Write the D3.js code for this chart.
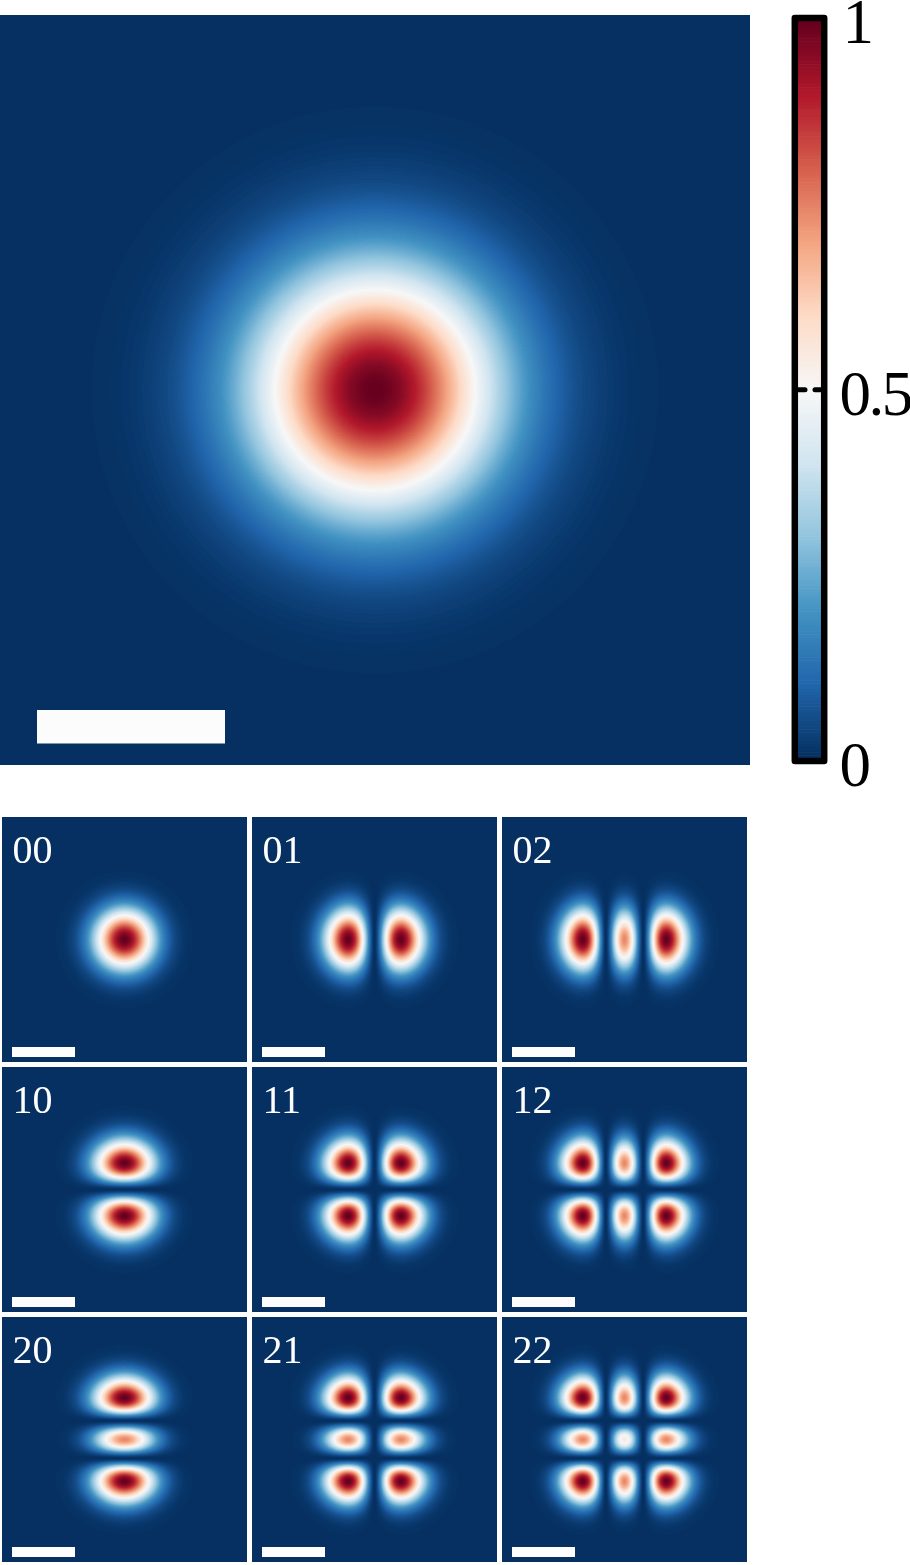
<!DOCTYPE html>
<html>
<head>
<meta charset="utf-8">
<script src="https://cdn.jsdelivr.net/npm/d3@7"></script>
<style>
html,body{margin:0;padding:0;background:#fff;width:910px;height:1565px;overflow:hidden}
#wrap{position:relative;width:910px;height:1565px}
canvas{position:absolute;display:block}
svg{position:absolute;left:0;top:0}
text{font-family:"Liberation Serif","Times New Roman",serif}
</style>
</head>
<body>
<div id="wrap"></div>
<script>
// Readings from the picture. Distances are in scale-bar lengths, sampled every profileStep.
const profileStep = 0.05;
const mainRadial = [1,.9939,.9758,.9464,.9067,.8581,.8022,.7408,.6757,.6088,.5421,.4768,.414,.3552,.3012,.2521,.2087,.1706,.1378,.1097,.0863,.067,.0515,.0391,.0294,.0217,.0161,.0116,.0083,.0058,.0041,.0028,.0019,.0013,.0008,0];
const order0 = [1,.9882,.9537,.8986,.8269,.7436,.6529,.559,.4681,.383,.3055,.238,.1812,.1347,.098,.0691,.048,.0325,.0215,.0138,.0087,.0053,.0032,.0019,.0011,.0006,.0003,0];
const order1 = [0,.0656,.2017,.3731,.554,.7232,.8615,.9525,.996,.9925,.9428,.861,.7588,.6437,.5304,.4199,.3241,.2432,.1766,.1243,.0855,.0567,.0367,.0233,.0142,.0088,.0051,.003,.0016,.0009,.0005,0];
const order2 = [.74,.698,.578,.406,.223,.069,.001,.0945,.268,.4757,.6772,.8414,.9515,.9988,.985,.9206,.8185,.699,.5725,.4511,.3429,.252,.1794,.1229,.0818,.053,.033,.0202,.012,.0069,.004,.0022,.0012,.0006,.0003,0];
const orderProfiles = [order0, order1, order2];
const modeOrders = [0, 1, 2];
const colorDomain = [0,.1,.2,.3,.4,.5,.6,.7,.8,.9,1];
const colorStops = ["#053061","#2166ac","#4393c3","#92c5de","#d1e5f0","#f7f7f7","#fddbc7","#f4a582","#d6604d","#b2182b","#67001f"];
const colorLevels = d3.range(256).map(i => i / 255);
const barTicks = [0, 0.5, 1];
const barMarks = [0.5];

const color = d3.scaleLinear().domain(colorDomain).range(colorStops).interpolate(d3.interpolateRgb);
const lut = colorLevels.map(v => d3.rgb(color(v)));
const level = d3.scaleQuantize().domain([0, 1]).range(d3.range(256));

function sample(table, d) {
  const t = Math.abs(d) / profileStep, i = Math.floor(t), f = t - i;
  if (i >= table.length - 1) return 0;
  const at = k => k < 0 ? table[-k] : (k >= table.length ? 0 : table[k]);
  const a = at(i - 1), b = at(i), c = at(i + 1), e = at(i + 2);
  const v = 0.5 * (2 * b + (c - a) * f + (2 * a - 5 * b + 4 * c - e) * f * f + (3 * b - a - 3 * c + e) * f * f * f);
  return Math.max(0, Math.min(1, v));
}

const wrap = d3.select("#wrap");

function heat(left, top, size, unit, fn) {
  const half = size / 2 / unit;
  const pos = d3.scaleLinear().domain([0, size]).range([-half, half]);
  const cv = wrap.append("canvas").attr("width", size).attr("height", size)
    .style("left", left + "px").style("top", top + "px");
  const ctx = cv.node().getContext("2d");
  const img = ctx.createImageData(size, size);
  for (let r = 0; r < size; r++) for (let c = 0; c < size; c++) {
    const col = lut[level(fn(pos(c + 0.5), pos(r + 0.5)))];
    const k = (r * size + c) * 4;
    img.data[k] = col.r; img.data[k + 1] = col.g; img.data[k + 2] = col.b; img.data[k + 3] = 255;
  }
  ctx.putImageData(img, 0, 0);
}

// large beam
heat(0, 15, 750, 188, (x, y) => sample(mainRadial, Math.hypot(x, y)));

// 3x3 mode grid
const col = d3.scaleBand().domain(modeOrders).range([2, 747]).paddingInner(0.02);
const row = d3.scaleBand().domain(modeOrders).range([817, 1562]).paddingInner(0.02);
const modes = d3.cross(modeOrders, modeOrders, (m, n) => ({m, n}));
modes.forEach(({m, n}) => {
  heat(Math.round(col(n)), Math.round(row(m)), 245, 63,
    (x, y) => sample(orderProfiles[m], y) * sample(orderProfiles[n], x));
});

const svg = wrap.append("svg").attr("width", 910).attr("height", 1565);

svg.append("rect").attr("x", 37).attr("y", 710).attr("width", 188).attr("height", 33.5).attr("fill", "#fcfcfc");

const modeG = svg.selectAll("g.mode").data(modes).join("g").attr("class", "mode")
  .attr("transform", d => `translate(${Math.round(col(d.n))},${Math.round(row(d.m))})`);
modeG.append("rect").attr("x", 10).attr("y", 230).attr("width", 63).attr("height", 10).attr("fill", "#fdfdfd");
modeG.append("text").attr("x", 10.5).attr("y", 46).attr("font-size", 40).attr("fill", "#fff")
  .text(d => `${d.m}${d.n}`);

// colour bar
const barY = d3.scaleLinear().domain([0, 1]).range([758.3, 21.3]);
const cellH = (barY(0) - barY(1)) / colorLevels.length;
svg.append("g").selectAll("rect").data(colorLevels).join("rect")
  .attr("x", 797).attr("width", 25)
  .attr("y", (d, i) => barY(0) - (i + 1) * cellH - 0.3)
  .attr("height", cellH + 0.6)
  .attr("fill", d => color(d));
svg.append("rect").attr("x", 794.8).attr("y", 18.1).attr("width", 29.4).attr("height", 743)
  .attr("fill", "none").attr("stroke", "#000").attr("stroke-width", 6.5).attr("stroke-linejoin", "round");

const marks = svg.append("g").selectAll("g").data(barMarks).join("g");
[[798, 805], [815, 821]].forEach(([a, b]) => {
  marks.append("line").attr("x1", a).attr("x2", b)
    .attr("y1", d => barY(d)).attr("y2", d => barY(d))
    .attr("stroke", "#000").attr("stroke-width", 5).attr("stroke-linecap", "round");
});

const axis = d3.axisRight(barY).tickValues(barTicks).tickFormat(d3.format("")).tickSize(0).tickPadding(0);
const axG = svg.append("g").attr("transform", "translate(838.5,0)").call(axis);
axG.select(".domain").remove();
const labelShift = d => d === 1 ? 21 : d === 0 ? 27 : 24.5;
axG.selectAll("text").attr("font-size", 63).attr("fill", "#000")
  .attr("font-family", '"Liberation Serif","Times New Roman",serif')
  .attr("x", d => d === 1 ? 4 : 1).attr("dy", 0).attr("y", labelShift)
  .attr("letter-spacing", d => d === 0.5 ? -2.5 : 0);
</script>
</body>
</html>
